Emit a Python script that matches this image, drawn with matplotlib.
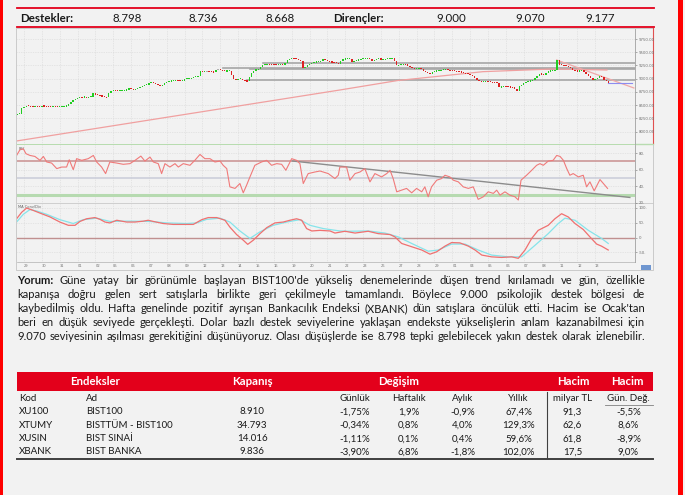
import matplotlib
matplotlib.use("Agg")
import matplotlib.pyplot as plt
import numpy as np

# ---------------- data ----------------
support_levels = ["8.798", "8.736", "8.668"]
resistance_levels = ["9.000", "9.070", "9.177"]

day_labels = ["29", "30", "31", "01", "02", "05", "06", "07", "08", "09", "12", "13", "14", "15", "16",
              "19", "20", "21", "22", "23", "26", "27", "28", "29", "01", "04", "05", "06", "07", "08",
              "11", "12", "13"]

first_bar = -3
open_first = 8320
closes = [8331, 8340, 8445,
          8470, 8489, 8482, 8478, 8470, 8477, 8468, 8464,
          8489, 8480, 8475, 8472, 8470, 8477, 8468, 8464,
          8470, 8475, 8477, 8490, 8521, 8559, 8590, 8621,
          8640, 8653, 8650, 8655, 8648, 8653, 8660, 8729,
          8697, 8690, 8678, 8665, 8655, 8648, 8729, 8760,
          8780, 8775, 8770, 8773, 8780, 8784, 8786, 8824,
          8800, 8792, 8810, 8824, 8840, 8860, 8875, 8890,
          8915, 8932, 8925, 8900, 8880, 8856, 8890, 8919,
          8935, 8951, 8962, 8965, 8970, 8966, 8960, 8962,
          9000, 9005, 9010, 9013, 9030, 9040, 9045, 9140,
          9135, 9140, 9140, 9138, 9130, 9121, 9170, 9170,
          9165, 9160, 9140, 9150, 9152, 9076, 9000, 8981,
          8995, 9000, 8970, 8962, 8951, 9027, 9100, 9152,
          9175, 9189, 9220, 9265, 9270, 9278, 9275, 9270,
          9268, 9262, 9265, 9270, 9265, 9300, 9348, 9370,
          9392, 9385, 9375, 9360, 9341, 9203, 9216, 9250,
          9278, 9290, 9311, 9320, 9325, 9330, 9373, 9360,
          9330, 9320, 9315, 9311, 9295, 9284, 9330, 9373,
          9375, 9378, 9379, 9316, 9330, 9348, 9360, 9373,
          9380, 9385, 9392, 9370, 9341, 9360, 9380, 9392,
          9360, 9365, 9373, 9380, 9385, 9392, 9330, 9254,
          9260, 9265, 9278, 9270, 9240, 9216, 9200, 9189,
          9195, 9203, 9180, 9152, 9120, 9100, 9089, 9120,
          9140, 9150, 9159, 9165, 9175, 9184, 9165, 9152,
          9150, 9145, 9140, 9130, 9121, 9110, 9100, 9089,
          9070, 9057, 9020, 8981, 8960, 8937, 8945, 8951,
          8945, 8937, 8930, 8925, 8919, 8837, 8850, 8856,
          8850, 8843, 8840, 8837, 8800, 8761, 8856, 8890,
          8919, 8935, 8950, 8962, 8980, 9013, 9050, 9095,
          9085, 9076, 9100, 9140, 9150, 9159, 9165, 9348,
          9265, 9260, 9254, 9240, 9216, 9200, 9170, 9150,
          9140, 9150, 9159, 9120, 9089, 9050, 9013, 8970,
          8990, 9020, 9057, 9030, 8981, 8950, 8919]

ma_idx = [-3.6, 141.6, 167.6, 205.7, 237.1, 261.3]
ma_val = [7819, 8786, 8966, 9133, 9184, 9165]

sr_levels = [9297, 9206, 9184, 8970]
sr_start = [107.2, 89.2, 101.3, 100.0]

down_trend_idx = [238.8, 273.4]
down_trend_val = [9354, 8824]
last_level_idx = [261.8, 272.5]
last_level_val = [8918, 8918]

price_ticks = [8000, 8250, 8500, 8750, 9000, 9250, 9500, 9750]

rsi_idx = [-3.3, -1.8, -0.3, 0.9, 2.7, 4.9, 7.2, 8.7, 10.2, 12.4, 14.7, 16.9, 19.1, 20.3, 22.1, 23.6,
           25.9, 28.8, 31.1, 32.6, 34.8, 36.6, 38.5, 41.6, 44.5, 47.5, 49.8, 52.4, 54.2, 56.5, 58.0,
           60.2, 61.7, 63.2, 65.4, 67.7, 69.2, 71.4, 74.4, 76.6, 78.9, 81.1, 83.4, 85.6, 87.9, 89.3,
           90.9, 92.3, 94.6, 96.8, 98.3, 99.8, 101.3, 103.5, 106.5, 108.8, 111.0, 113.3, 115.5, 117.4,
           120.0, 122.2, 123.7, 125.2, 127.4, 130.4, 132.7, 136.4, 139.4, 140.9, 141.6, 144.6, 146.1,
           148.4, 150.6, 152.8, 155.1, 157.3, 160.3, 162.6, 164.1, 165.5, 167.1, 169.3, 171.5, 173.8,
           176.0, 178.3, 179.7, 181.2, 182.7, 185.0, 187.2, 188.7, 190.9, 192.5, 194.7, 196.9, 199.2,
           201.4, 203.6, 205.9, 208.1, 210.4, 211.9, 213.4, 215.6, 217.8, 220.1, 221.6, 222.8, 225.3,
           227.6, 229.8, 231.3, 232.8, 235.0, 237.2, 238.8, 240.3, 241.8, 243.3, 244.7, 246.2, 248.5,
           250.7, 252.2, 253.7, 255.6, 258.2, 259.7, 261.6]
rsi_val = [77.2, 84, 85.3, 79.3, 77.2, 76, 71.3, 76, 69.3, 68, 61.3, 63.2, 63.2, 72, 60, 73.3,
           71.3, 73.3, 77.2, 69.3, 63.2, 55.3, 69.3, 68, 66.5, 67.3, 71.3, 76.4, 70.4, 75.2, 69.3,
           67.3, 55.3, 67.3, 63.2, 67.3, 63.2, 67.3, 65.3, 71.3, 78.4, 73.3, 73.3, 69.3, 70.4, 65.3,
           61.3, 39.3, 37.4, 43.3, 32.1, 41.3, 51.3, 65.3, 69.3, 71.3, 65.3, 67.3, 66.5, 59.3,
           73.3, 71.3, 67.3, 43.3, 55.3, 57.2, 58.4, 55.3, 49.3, 53.3, 63.2, 63.2, 47.3,
           55.3, 57.2, 61.3, 45.3, 55.3, 51.3, 55.3, 59.3, 49.3, 33.3, 35.3, 37.4, 32.1,
           37.4, 33.3, 39.3, 27.3, 39.3, 47.3, 49.3, 53.3, 51.3, 47.3, 45.3, 39.3, 37.4,
           39.3, 24.2, 27.3, 33.3, 31.4, 35.3, 29.3, 33.3, 29.3, 27.3, 23.4, 47.3, 53.3,
           59.3, 65.3, 67.3, 65.3, 70.4, 71.3, 77.2, 76, 71.3, 61.3, 53.3, 55.3, 51.3,
           53.3, 39.3, 45.3, 34.5, 48.1, 43.3, 37.4]
rsi_trend_idx = [120.3, 271.6]
rsi_trend_val = [70.5, 26.5]
rsi_levels = [70, 50, 30]
rsi_ticks = [20, 40, 60, 80]

macd_idx = [-3.3, -1.0, 1.2, 4.2, 7.2, 11.7, 16.1, 19.9, 22.9, 25.1, 28.1, 31.8, 34.1, 36.3, 38.5,
            41.6, 46.0, 49.8, 53.5, 55.7, 58.0, 62.4, 66.9, 71.4, 75.9, 79.7, 82.6, 86.4, 90.1,
            92.3, 95.3, 98.3, 100.3, 102.8, 105.8, 108.8, 112.5, 116.2, 119.2, 122.2, 124.5,
            126.7, 129.0, 132.7, 137.2, 139.4, 143.9, 148.4, 154.3, 158.8, 164.1, 166.3, 169.3,
            173.8, 178.3, 182.0, 185.0, 188.7, 191.7, 195.4, 199.2, 202.2, 205.2, 209.6, 214.1,
            218.6, 221.6, 224.6, 227.6, 230.5, 235.0, 238.0, 241.0, 244.0, 247.0, 250.7, 253.7,
            256.7, 258.9, 261.9]
macd_val = [63, 85, 99, 91, 82, 69, 52, 41, 41, 54, 63, 67, 61, 52, 49,
            58, 52, 52, 55, 58, 54, 47, 44, 44, 44, 60, 67, 67, 58,
            35, 10, -9, -23, -9, 13, 33, 49, 52, 58, 63, 58,
            30, 22, 24, 22, 15, 21, 15, 21, 13, 10, 2, -20,
            -31, -42, -56, -48, -29, -17, -18, -29, -42, -59, -65, -67,
            -65, -70, -42, -3, 24, 41, 63, 80, 69, 47, 27, 2,
            -22, -29, -42]
signal_idx = [-3.3, -0.3, 2.7, 5.7, 10.2, 16.1, 22.1, 26.6, 32.6, 38.5, 46.0, 56.5, 64.0, 72.9,
              77.4, 81.9, 87.9, 92.3, 96.8, 101.3, 105.8, 111.7, 117.8, 123.7, 128.2, 134.2, 141.6,
              145.4, 154.3, 161.8, 167.8, 173.8, 181.2, 185.7, 191.7, 197.7, 203.6, 209.6, 217.1,
              223.1, 229.1, 235.0, 239.5, 242.5, 247.0, 253.0, 258.9, 261.9]
signal_val = [52, 78, 94, 89, 78, 60, 47, 60, 65, 54, 55, 54, 49, 47,
              49, 61, 65, 52, 22, -3, 19, 41, 52, 60, 41, 30, 22,
              21, 22, 15, 2, -20, -46, -42, -22, -22, -42, -59, -65,
              -65, -26, 13, 47, 65, 58, 24, -3, -20]
macd_ticks = [-50, 0, 50, 100]

comment_lines = [
    "Yorum: Güne yatay bir görünümle başlayan BIST100'de yükseliş denemelerinde düşen trend kırılamadı ve gün, özellikle",
    "kapanışa doğru gelen sert satışlarla birlikte geri çekilmeyle tamamlandı. Böylece 9.000 psikolojik destek bölgesi de",
    "kaybedilmiş oldu. Hafta genelinde pozitif ayrışan Bankacılık Endeksi (XBANK) dün satışlara öncülük etti. Hacim ise Ocak'tan",
    "beri en düşük seviyede gerçekleşti. Dolar bazlı destek seviyelerine yaklaşan endekste yükselişlerin anlam kazanabilmesi için",
    "9.070 seviyesinin aşılması gerekitiğini düşünüyoruz. Olası düşüşlerde ise 8.798 tepki gelebilecek yakın destek olarak izlenebilir.",
]

table_groups = ["Endeksler", "Kapanış", "Değişim", "Hacim", "Hacim"]
table_cols = ["Kod", "Ad", "", "Günlük", "Haftalık", "Aylık", "Yıllık", "milyar TL", "Gün. Değ."]
codes = ["XU100", "XTUMY", "XUSIN", "XBANK"]
names = ["BIST100", "BISTTÜM - BIST100", "BIST SINAİ", "BIST BANKA"]
close_vals = ["8.910", "34.793", "14.016", "9.836"]
daily_chg = ["-1,75%", "-0,34%", "-1,11%", "-3,90%"]
weekly_chg = ["1,9%", "0,8%", "0,1%", "6,8%"]
monthly_chg = ["-0,9%", "4,0%", "0,4%", "-1,8%"]
yearly_chg = ["67,4%", "129,3%", "59,6%", "102,0%"]
volume = ["91,3", "62,6", "61,8", "17,5"]
volume_chg = ["-5,5%", "8,6%", "-8,9%", "9,0%"]

# ---------------- layout helpers ----------------
W, H = 685, 495
fig = plt.figure(figsize=(W / 100, H / 100), dpi=100)
BG = '#f2f2f2'
RED = '#e3001b'
fig.patch.set_facecolor(BG)
FONT = 'Lato'


def rect(x0, y0, x1, y1):
    return [x0 / W, 1 - y1 / H, (x1 - x0) / W, (y1 - y0) / H]


ax0 = fig.add_axes([0, 0, 1, 1])
ax0.set_xlim(0, W)
ax0.set_ylim(H, 0)
ax0.axis('off')

# page borders
ax0.add_patch(plt.Rectangle((0, 0), 3, H, color='#ff0000', lw=0))
ax0.add_patch(plt.Rectangle((678, 0), 5, H, color='#ff0000', lw=0))

# top support / resistance row
ax0.plot([17.5, 654], [8, 8], color=RED, lw=1.3)
ax0.plot([17.5, 654], [27, 27], color=RED, lw=1.3)
ax0.text(20, 18, "Destekler:", fontsize=8.3, family=FONT, weight='bold', va='center', color='#1a1a1a')
ax0.text(333, 18, "Dirençler:", fontsize=8.3, family=FONT, weight='bold', va='center', color='#1a1a1a')
for xc, s in zip([127, 203, 280], support_levels):
    ax0.text(xc, 18, s, fontsize=8.3, family=FONT, va='center', ha='center', color='#1a1a1a')
for xc, s in zip([451, 530, 600], resistance_levels):
    ax0.text(xc, 18, s, fontsize=8.3, family=FONT, va='center', ha='center', color='#1a1a1a')

# chart frame
ax0.add_patch(plt.Rectangle((16, 28), 637, 242, facecolor='#f3f3f3', edgecolor='#c4c4c4', lw=0.6))
ax0.plot([653, 653], [28, 143], color='#e05050', lw=0.8)
ax0.plot([16.6, 653], [144.2, 144.2], color='#b8dcb0', lw=1.0)
ax0.add_patch(plt.Rectangle((641, 264.5), 10, 5, facecolor='#6f96d0', lw=0))

XMIN, XMAX = -3.3, 273.9
day_pos = [8 * d for d in range(len(day_labels))]


def panel(y0, y1):
    a = fig.add_axes(rect(16.6, y0, 635, y1))
    a.set_facecolor('#f2f2f2')
    a.set_xlim(XMIN, XMAX)
    for s in ['top', 'left', 'bottom']:
        a.spines[s].set_visible(False)
    a.spines['right'].set_color('#a0a0a0')
    a.spines['right'].set_linewidth(0.6)
    a.yaxis.tick_right()
    a.tick_params(axis='y', labelsize=2.8, length=1.5, width=0.4, colors='#707070', pad=1)
    a.tick_params(axis='x', length=0, labelbottom=False)
    a.set_xticks(day_pos)
    a.grid(True, color='#d6d6d6', lw=0.5, ls=(0, (1, 1.5)))
    a.set_axisbelow(True)
    return a


# ---- price panel ----
axp = panel(29, 143.5)
axp.set_ylim(7773, 9941)
axp.set_yticks(price_ticks)
axp.set_yticklabels([f"{v}.00" for v in price_ticks])
c = np.array(closes, dtype=float)
o = np.r_[open_first, c[:-1]]
xb = np.arange(first_bar, first_bar + len(c))
col = np.where(c > o, '#22cc22', np.where(c < o, '#dd2222', '#b0b0b0'))
body = np.maximum(np.abs(c - o), 22)
mid = (c + o) / 2
axp.bar(xb, body, bottom=mid - body / 2, width=0.62, color=col, lw=0, zorder=4)
axp.plot(ma_idx, ma_val, color='#f0a0a0', lw=0.9, zorder=3)
for lev, st in zip(sr_levels, sr_start):
    axp.plot([st, XMAX], [lev, lev], color='#a6a6a6', lw=1.2, zorder=2)
axp.plot(down_trend_idx, down_trend_val, color='#f0a8a8', lw=0.9, zorder=3)
axp.plot(last_level_idx, last_level_val, color='#8c8cf0', lw=0.8, zorder=3)

# ---- RSI panel ----
axr = panel(145, 203)
axr.set_ylim(19.8, 89.8)
axr.set_yticks(rsi_ticks)
axr.set_yticklabels([f"{v}." for v in rsi_ticks])
axr.axhline(rsi_levels[0], color='#c99090', lw=1.1, zorder=2)
axr.axhline(rsi_levels[1], color='#c9ccd8', lw=1.1, zorder=2)
axr.axhline(rsi_levels[2], color='#b6dab0', lw=2.2, zorder=2)
axr.plot(rsi_idx, rsi_val, color='#f07a7a', lw=0.8, zorder=4)
axr.plot(rsi_trend_idx, rsi_trend_val, color='#8c8c8c', lw=1.0, zorder=3)
axr.text(-2.5, 87, "RSI", fontsize=2.6, color='#606060', va='top')
ax0.plot([16.6, 653], [203.2, 203.2], color='#c8c8c8', lw=0.6)

# ---- MACD panel ----
axm = panel(203.5, 262)
axm.set_ylim(-82.3, 114.3)
axm.set_yticks(macd_ticks)
axm.set_yticklabels(["-50.", "0", "50.", "100."])
axm.axhline(0, color='#c09090', lw=1.0, zorder=2)
axm.plot(signal_idx, signal_val, color='#86e4ea', lw=0.9, zorder=3)
axm.plot(macd_idx, macd_val, color='#f07070', lw=0.9, zorder=4)
axm.text(-2.5, 110, "MA Conv/Div", fontsize=2.6, color='#606060', va='top')
axm.tick_params(axis='x', labelbottom=True, labelsize=2.6, colors='#707070', pad=1.2)
axm.set_xticklabels(day_labels, ha='left')
ax0.plot([16.6, 635], [262.2, 262.2], color='#b0b0b0', lw=0.5)

# ---- comment paragraph (justified) ----
renderer = fig.canvas.get_renderer()


def measure(s, size, weight='normal'):
    t = ax0.text(0, 0, s, fontsize=size, family=FONT, weight=weight)
    w = t.get_window_extent(renderer=renderer).width
    t.remove()
    return w


px_l, px_r = 17.5, 645.0
avail = px_r - px_l
fs = 8.0
space = measure("a a", fs) - measure("aa", fs)
nat = []
for i, line in enumerate(comment_lines):
    words = line.split(' ')
    ws = [measure(w, fs, 'bold' if (i == 0 and j == 0) else 'normal') for j, w in enumerate(words)]
    nat.append(sum(ws) + space * (len(words) - 1))
scale = min(1.0, avail * 0.985 / max(nat))
fs = fs * scale
line_y = [280, 294.2, 308.4, 322.5, 336.7]
for i, line in enumerate(comment_lines):
    words = line.split(' ')
    weights = ['bold' if (i == 0 and j == 0) else 'normal' for j in range(len(words))]
    ws = [measure(w, fs, wt) for w, wt in zip(words, weights)]
    gap = (avail - sum(ws)) / (len(words) - 1)
    xcur = px_l
    for w, wt, ww in zip(words, weights, ws):
        ax0.text(xcur, line_y[i], w, fontsize=fs, family=FONT, weight=wt, va='center', ha='left',
                 color='#1a1a1a')
        xcur += ww + gap

# ---- table ----
ax0.add_patch(plt.Rectangle((17.5, 372), 635.5, 19, facecolor=RED, lw=0))
for xc, s in zip([95, 252, 399, 573, 627.5], table_groups):
    ax0.text(xc, 381.5, s, fontsize=8.2, family=FONT, weight='bold', color='white', ha='center', va='center')
tfs = 7.0
ax0.text(19, 398.5, table_cols[0], fontsize=tfs, family=FONT, va='center', color='#1a1a1a')
ax0.text(86, 398.5, table_cols[1], fontsize=tfs, family=FONT, va='center', color='#1a1a1a')
col_x = [355, 408.5, 462.5, 518.5, 572.5, 628.5]
for xc, s in zip(col_x, table_cols[3:]):
    ax0.text(xc, 398.5, s, fontsize=tfs, family=FONT, va='center', ha='center', color='#1a1a1a')
ax0.plot([605, 653], [404.5, 404.5], color='#808080', lw=0.6)
row_y = [412, 425.5, 438.8, 452]
for k in range(len(codes)):
    y = row_y[k]
    ax0.text(19, y, codes[k], fontsize=tfs, family=FONT, va='center', color='#1a1a1a')
    ax0.text(86, y, names[k], fontsize=tfs, family=FONT, va='center', color='#1a1a1a')
    ax0.text(252, y, close_vals[k], fontsize=tfs, family=FONT, va='center', ha='center', color='#1a1a1a')
    vals = [daily_chg[k], weekly_chg[k], monthly_chg[k], yearly_chg[k], volume[k], volume_chg[k]]
    for xc, s in zip(col_x, vals):
        ax0.text(xc, y, s, fontsize=tfs, family=FONT, va='center', ha='center', color='#1a1a1a')
ax0.plot([547, 547], [392, 458], color='#404040', lw=0.8)
ax0.plot([17.5, 653], [458.5, 458.5], color='#404040', lw=1.4)

fig.savefig("out.png", dpi=100, facecolor=BG)
